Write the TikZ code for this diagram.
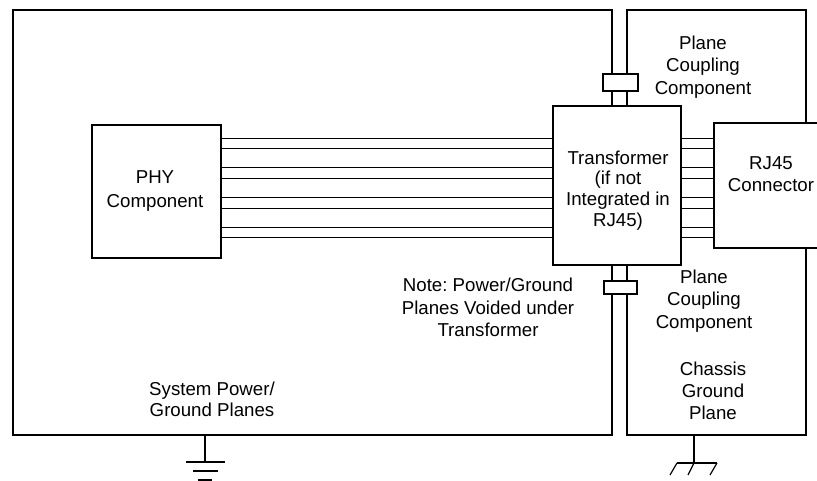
\documentclass[tikz,border=0pt]{standalone}
\usepackage{fontspec}
\setmainfont{Liberation Sans}
\frenchspacing
\tikzset{
  x=0.75pt,y=-0.75pt,
  plane/.style={draw=black,line width=1.9pt,fill=none,inner sep=0pt},
  block/.style={draw=black,line width=1.9pt,fill=white,inner sep=0pt},
  coupler/.style={draw=black,fill=white,inner sep=0pt},
  txt/.style={inner sep=0pt,align=center,font=\fontsize{14}{#1}\selectfont},
  txt/.default=16.7pt,
  wire/.style={draw=black,line width=0.6pt},
  thin wire/.style={draw=black,line width=0.9pt}
}
\newcommand{\boxat}[7][block]{\node[#1,minimum width=#4*0.75pt,minimum height=#5*0.75pt,#7] (#2) at (#3) {#6};}
\begin{document}
\begin{tikzpicture}
\useasboundingbox (0,0) rectangle (817,481);
\clip (0,0) rectangle (817,481);
\boxat[plane]{sys}{312.5,222.5}{599}{425}{}{}
\boxat[plane]{chassis}{716.5,222.5}{179}{425}{}{}
\boxat{phy}{156.5,191.5}{129}{133}{}{}
\boxat{xfmr}{617,185.5}{128}{159}{}{}
\boxat{rj}{771,185.5}{114}{125}{}{}
\boxat[coupler]{ctop}{620.5,82.5}{35}{17}{}{line width=1pt}
\boxat[coupler]{cbot}{620.5,287.5}{33}{13}{}{line width=1.7pt}
\foreach \y in {138,148,167,178,197,208,227,237}{
  \draw[wire] (phy.east |- 0,\y) -- (xfmr.west |- 0,\y);
  \draw[wire] (xfmr.east |- 0,\y) -- (rj.west |- 0,\y);
}
\node[txt=18pt] (tphy) at (155,191) {PHY\\Component};
\node[txt=15.6pt] (txf) at (618,190.5) {Transformer\\(if not\\Integrated in\\RJ45)};
\node[txt] (trj) at (771,174.5) {RJ45\\Connector};
\node[txt] (tpc1) at (703,67) {Plane\\Coupling\\Component};
\node[txt] (tpc2) at (704,301) {Plane\\Coupling\\Component};
\node[txt] (tnote) at (488,307.5) {Note: Power/Ground\\Planes Voided under\\Transformer};
\node[txt] (tch) at (713,391) {Chassis\\Ground\\Plane};
\node[txt=16pt] (tsys) at (212,399) {System Power/\\Ground Planes};
% grounds
\coordinate (g1) at (205,462);
\coordinate (g2) at (694,463);
\draw[thin wire] (sys.south -| g1) -- (g1);
\draw[thin wire] (186,462) -- (225,462);
\draw[thin wire] (193,471) -- (218,471);
\draw[thin wire] (198,480) -- (212,480);
\draw[thin wire] (chassis.south -| g2) -- (g2);
\draw[thin wire] (677,463) -- (717,463);
\draw[thin wire] (677,463) -- (670,475);
\draw[thin wire] (694,463) -- (688,475);
\draw[thin wire] (717,463) -- (710,475);
\end{tikzpicture}
\end{document}
